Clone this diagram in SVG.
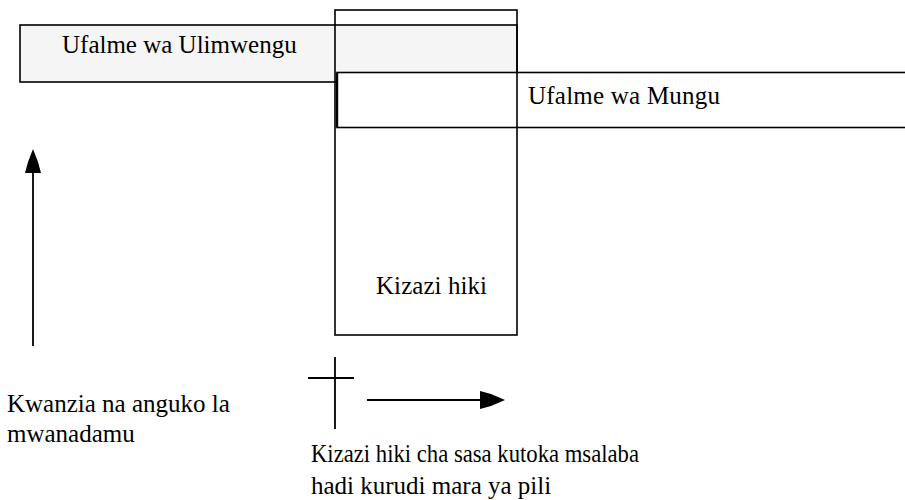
<svg xmlns="http://www.w3.org/2000/svg" width="905" height="500" viewBox="0 0 905 500">
<style>
.t{font-family:'Liberation Serif','Times New Roman',Tinos,serif;font-size:25px;fill:#000}
.box{stroke:#000;stroke-width:1.6}
.ln{stroke:#000;stroke-width:1.8;fill:none}
.head{fill:#000;stroke:none}
</style>
<rect width="905" height="500" fill="#fff"/>
<g id="ufalme-ulimwengu">
<rect class="box" x="20" y="25" width="497" height="57" fill="#f5f5f5"/>
<text class="t" x="62" y="53">Ufalme wa Ulimwengu</text>
</g>
<g id="ufalme-mungu">
<rect class="box" x="337" y="72.5" width="580" height="55" fill="#fff"/>
<line x1="337" y1="72.5" x2="337" y2="127.5" stroke="#000" stroke-width="2.4"/>
<text class="t" x="528" y="104" textLength="192" lengthAdjust="spacing">Ufalme wa Mungu</text>
</g>
<g id="kizazi-hiki">
<rect class="box" x="335" y="10" width="182" height="325" fill="none"/>
<text class="t" x="376" y="294" textLength="111" lengthAdjust="spacing">Kizazi hiki</text>
</g>
<g id="msalaba">
<line class="ln" x1="335" y1="357" x2="335" y2="429"/>
<line class="ln" x1="308" y1="378" x2="354" y2="378"/>
</g>
<g id="connectors">
<line class="ln" x1="33" y1="346" x2="33" y2="170"/>
<polygon class="head" points="25,173 28,162 33,149 38,162 41,173"/>
<line class="ln" x1="367" y1="400" x2="482" y2="400"/>
<polygon class="head" points="480,391 491,394 505,400 491,406 480,409"/>
</g>
<g id="label-kwanzia">
<text class="t" x="7" y="412">Kwanzia na anguko la</text>
<text class="t" x="7" y="442">mwanadamu</text>
</g>
<g id="label-kizazi">
<text class="t" x="311" y="462" textLength="328" lengthAdjust="spacingAndGlyphs">Kizazi hiki cha sasa kutoka msalaba</text>
<text class="t" x="311" y="494">hadi kurudi mara ya pili</text>
</g>
</svg>
